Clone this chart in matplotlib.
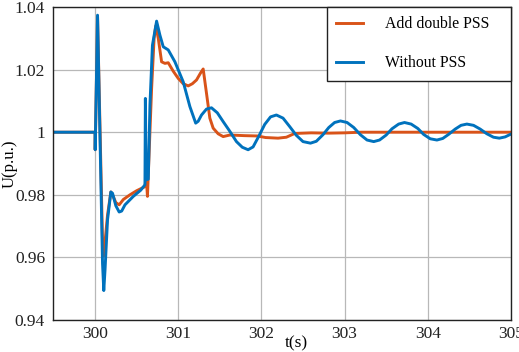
import numpy as np
import matplotlib
matplotlib.use("Agg")
import matplotlib.pyplot as plt

plt.rcParams["font.family"] = ["Liberation Serif", "DejaVu Serif"]

ORANGE = "#D95319"; BLUE = "#0072BD"; GRID = "#B8B8B8"

# --- data ---
t_pss = [299.5, 300.0, 300.002, 300.03, 300.09, 300.105, 300.12, 300.15, 300.19, 300.21,
         300.25, 300.29, 300.34, 300.42, 300.50, 300.60, 300.615, 300.63, 300.68, 300.71,
         300.73, 300.76, 300.80, 300.84, 300.88, 300.94, 301.00, 301.06, 301.12, 301.17,
         301.22, 301.27, 301.30, 301.34, 301.38, 301.42, 301.48, 301.54, 301.62, 301.80,
         301.95, 302.05, 302.20, 302.30, 302.40, 302.60, 302.80, 303.00, 303.20, 304.00, 305.00]
u_pss = [1.0, 1.0, 0.9944, 1.0370, 0.9650, 0.9605, 0.9650, 0.9735, 0.9809, 0.9800,
         0.9775, 0.9768, 0.9785, 0.9800, 0.9813, 0.9826, 0.9858, 0.9795, 1.0140, 1.0300,
         1.0340, 1.0300, 1.0225, 1.0220, 1.0222, 1.0195, 1.0172, 1.0155, 1.0148, 1.0155,
         1.0167, 1.0190, 1.0202, 1.0124, 1.0045, 1.0013, 0.9995, 0.9986, 0.9991, 0.9989,
         0.9988, 0.9983, 0.9981, 0.9984, 0.9996, 0.9998, 0.9997, 0.9998, 1.0000, 1.0000, 1.0000]

t_nopss = [299.5, 300.0, 300.002, 300.03, 300.09, 300.105, 300.12, 300.15, 300.19, 300.21,
           300.25, 300.29, 300.32, 300.36, 300.46, 300.55, 300.60, 300.605, 300.615, 300.64,
           300.66, 300.69, 300.74, 300.78, 300.82, 300.88, 300.96, 301.06, 301.14, 301.21,
           301.24, 301.28, 301.34, 301.40, 301.47, 301.54, 301.62, 301.70, 301.77, 301.84,
           301.90, 301.97, 302.04, 302.11, 302.18, 302.26, 302.34, 302.42, 302.50, 302.59,
           302.66, 302.74, 302.81, 302.88, 302.95, 303.03, 303.11, 303.19, 303.27, 303.35,
           303.42, 303.50, 303.57, 303.65, 303.72, 303.80, 303.88, 303.95, 304.03, 304.11,
           304.18, 304.25, 304.33, 304.40, 304.47, 304.55, 304.63, 304.71, 304.79, 304.86,
           304.93, 305.00]
u_nopss = [1.0, 1.0, 0.9944, 1.0374, 0.9580, 0.9494, 0.9560, 0.9720, 0.9809, 0.9805,
           0.9765, 0.9745, 0.9748, 0.9768, 0.9795, 0.9815, 0.9832, 1.0108, 0.9848, 0.9850,
           1.0087, 1.0278, 1.0355, 1.0310, 1.0273, 1.0263, 1.0225, 1.0161, 1.0082, 1.0029,
           1.0035, 1.0055, 1.0074, 1.0078, 1.0062, 1.0034, 1.0003, 0.9970, 0.9952, 0.9944,
           0.9953, 0.9988, 1.0025, 1.0049, 1.0055, 1.0045, 1.0018, 0.9990, 0.9970, 0.9965,
           0.9971, 0.9992, 1.0015, 1.0031, 1.0036, 1.0031, 1.0015, 0.9992, 0.9975, 0.9970,
           0.9975, 0.9991, 1.0011, 1.0026, 1.0031, 1.0026, 1.0012, 0.9993, 0.9979, 0.9975,
           0.9980, 0.9993, 1.0010, 1.0022, 1.0026, 1.0022, 1.0010, 0.9995, 0.9984, 0.9981,
           0.9985, 0.9994]

xticks = [300, 301, 302, 303, 304, 305]
yticks = [0.94, 0.96, 0.98, 1.00, 1.02, 1.04]
ylabels = ["0.94", "0.96", "0.98", "1", "1.02", "1.04"]

fig = plt.figure(figsize=(5.19, 3.52), dpi=100)
ax = fig.add_axes([0.103, 0.091, 0.8815, 0.889])

ax.plot(t_pss, u_pss, color=ORANGE, lw=2.1, label="Add double PSS")
ax.plot(t_nopss, u_nopss, color=BLUE, lw=2.1, label="Without PSS")

ax.set_xlim(299.5, 305)
ax.set_ylim(0.94, 1.04)
ax.set_xticks(xticks)
ax.set_xticklabels([str(v) for v in xticks])
ax.set_yticks(yticks)
ax.set_yticklabels(ylabels)
ax.tick_params(length=0, labelsize=12.5, colors="#222222")
ax.tick_params(axis="y", pad=6)
ax.tick_params(axis="x", pad=4)
ax.grid(True, color=GRID, lw=0.9)
ax.set_axisbelow(True)
for s in ax.spines.values():
    s.set_color("#222222"); s.set_linewidth(1.0)

ax.set_xlabel("t(s)", fontsize=12.5)
ax.xaxis.set_label_coords(0.53, -0.05)
ax.set_ylabel("U(p.u.)", fontsize=12)
ax.yaxis.set_label_coords(-0.078, 0.5)

leg = ax.legend(loc="upper left", bbox_to_anchor=(0.598, 0.0, 0.402, 1.0), mode="expand",
                borderaxespad=0, fontsize=11.3, frameon=True, fancybox=False,
                handlelength=1.7, handletextpad=1.4, labelspacing=1.45, borderpad=0.6)
leg.get_frame().set_edgecolor("#222222")
leg.get_frame().set_linewidth(1.0)
leg.get_frame().set_alpha(1.0)

fig.savefig("out.png", dpi=100)
